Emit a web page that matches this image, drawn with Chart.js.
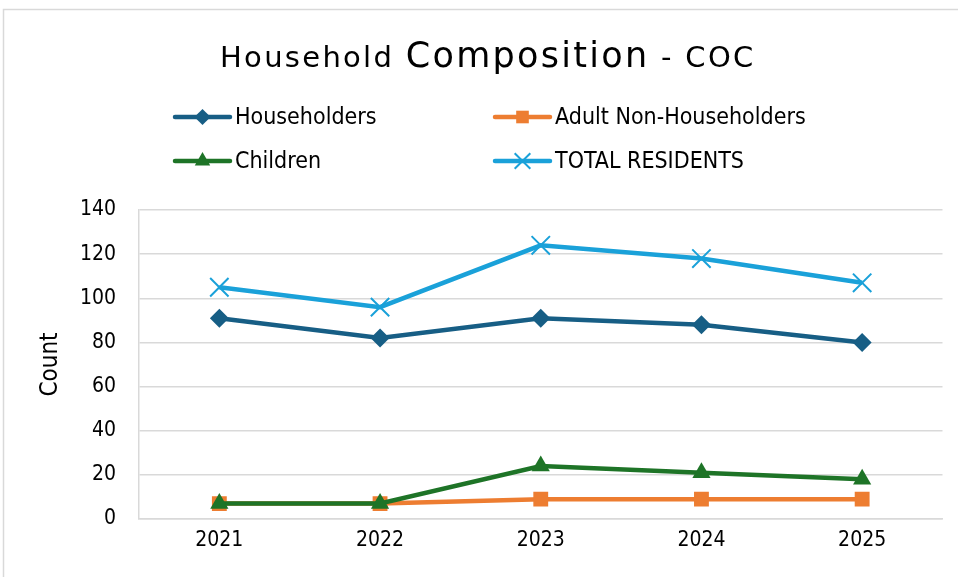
<!DOCTYPE html>
<html>
<head>
<meta charset="utf-8">
<script src="https://cdn.jsdelivr.net/npm/chart.js@4/dist/chart.umd.min.js"></script>
<style>
  html, body { margin: 0; padding: 0; background: #fff; }
  #wrap { position: relative; width: 958px; height: 577px; }
</style>
</head>
<body>
<div id="wrap"><canvas id="c" width="958" height="577"></canvas></div>
<script>
const years = ['2021', '2022', '2023', '2024', '2025'];
const householders = [91, 82, 91, 88, 80];
const adultNonHouseholders = [7, 7, 9, 9, 9];
const children = [7, 7, 24, 21, 18];
const totalResidents = [105, 96, 124, 118, 107];
const seriesNames = ['Householders', 'Adult Non-Householders', 'Children', 'TOTAL RESIDENTS'];
const seriesColors = ['#175E85', '#ED7D31', '#1E7427', '#1AA1D9'];
const yTicks = [0, 20, 40, 60, 80, 100, 120, 140];
const titleParts = [['Household ', 29], ['Composition', 35], [' - COC', 29]];
const yAxisTitle = 'Count';

const FONT = '"DejaVu Sans", Verdana, sans-serif';
const FONT_C = '"DejaVu Sans Condensed", "DejaVu Sans", sans-serif';

const pointStyles = ['rectRot', 'rect', 'triangle', 'crossRot'];
const pointRadii = [9.5, 10.5, 10.5, 13];
const seriesData = [householders, adultNonHouseholders, children, totalResidents];

const datasets = seriesNames.map((name, i) => ({
  label: name,
  data: seriesData[i],
  borderColor: seriesColors[i],
  backgroundColor: seriesColors[i],
  borderWidth: 4.5,
  pointStyle: pointStyles[i],
  pointRadius: pointRadii[i],
  pointHoverRadius: pointRadii[i],
  pointBorderWidth: i === 3 ? 2 : 0,
  pointBorderColor: seriesColors[i],
  pointBackgroundColor: seriesColors[i],
  tension: 0,
  order: 4 - i
}));

const decor = {
  id: 'decor',
  beforeDraw(chart) {
    const ctx = chart.ctx;
    ctx.save();
    ctx.strokeStyle = '#D9D9D9';
    ctx.lineWidth = 1.5;
    ctx.beginPath();
    ctx.moveTo(3.5, 600);
    ctx.lineTo(3.5, 9.5);
    ctx.lineTo(970, 9.5);
    ctx.stroke();
    ctx.restore();
  },
  afterDraw(chart) {
    const ctx = chart.ctx;
    ctx.save();
    // Title with mixed sizes
    ctx.fillStyle = '#000';
    ctx.textBaseline = 'alphabetic';
    ctx.textAlign = 'left';
    if ('letterSpacing' in ctx) ctx.letterSpacing = '2.3px';
    let x = 220;
    const baseY = 67;
    titleParts.forEach(([txt, size]) => {
      ctx.font = size + 'px ' + FONT;
      ctx.fillText(txt, x, baseY);
      x += ctx.measureText(txt).width;
    });
    if ('letterSpacing' in ctx) ctx.letterSpacing = '0px';

    // Legend
    const cols = [175, 495];
    const rows = [117, 161];
    ctx.font = '23px ' + FONT_C;
    ctx.textBaseline = 'middle';
    chart.data.datasets.forEach((ds, i) => {
      const lx = cols[i % 2];
      const ly = rows[Math.floor(i / 2)];
      ctx.strokeStyle = ds.borderColor;
      ctx.lineWidth = 4.5;
      ctx.lineCap = 'round';
      ctx.beginPath();
      ctx.moveTo(lx, ly);
      ctx.lineTo(lx + 55, ly);
      ctx.stroke();
      ctx.fillStyle = ds.backgroundColor;
      ctx.strokeStyle = ds.borderColor;
      ctx.lineWidth = ds.pointBorderWidth;
      ctx.lineCap = 'butt';
      Chart.helpers.drawPoint(ctx, {
        pointStyle: ds.pointStyle,
        radius: ds.pointRadius * 0.85,
        rotation: 0,
        borderWidth: ds.pointBorderWidth
      }, lx + 27.5, ly);
      ctx.fillStyle = '#000';
      ctx.fillText(ds.label, lx + 60, ly + 1);
    });
    ctx.restore();
  }
};

new Chart(document.getElementById('c'), {
  type: 'line',
  data: { labels: years, datasets },
  options: {
    responsive: false,
    animation: false,
    devicePixelRatio: 1,
    layout: { padding: { left: 36, right: 15.5, top: 210, bottom: 0 } },
    plugins: {
      legend: { display: false },
      title: { display: false },
      tooltip: { enabled: false }
    },
    scales: {
      x: {
        offset: true,
        grid: { display: false, drawTicks: false },
        border: { display: true, color: '#D9D9D9', width: 1.5 },
        ticks: { color: '#000', font: { family: FONT_C, size: 21 }, padding: 9 },
        afterFit(scale) { scale.height = 58; }
      },
      y: {
        min: 0,
        max: 140,
        afterBuildTicks(scale) { scale.ticks = yTicks.map(v => ({ value: v })); },
        grid: { color: '#D9D9D9', lineWidth: 1.5, drawTicks: false },
        border: { display: true, color: '#D9D9D9', width: 1.5 },
        ticks: { color: '#000', font: { family: FONT_C, size: 21 }, padding: 23 },
        title: { display: true, text: yAxisTitle, color: '#000', font: { family: FONT_C, size: 24 }, padding: { top: 0, bottom: 0 } },
        afterFit(scale) { scale.width = 139 - 36; }
      }
    }
  },
  plugins: [decor]
});
</script>
</body>
</html>
